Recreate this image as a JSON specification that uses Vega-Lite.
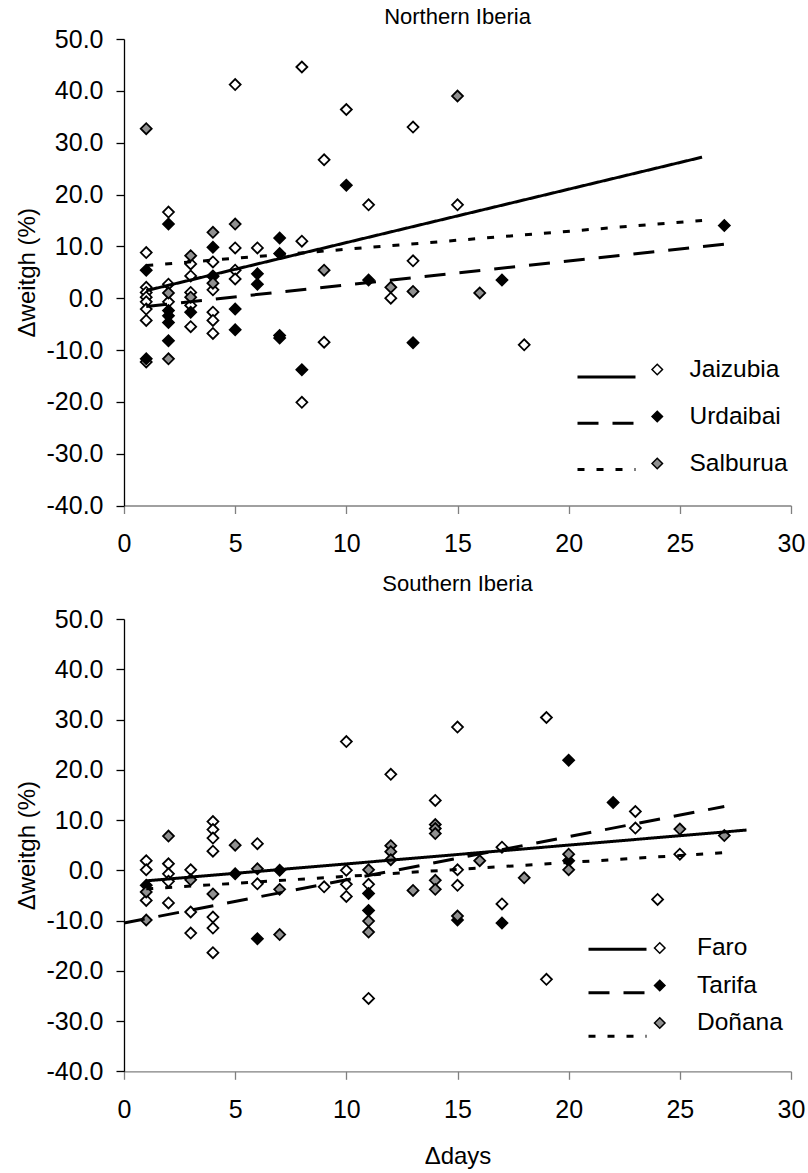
{
  "$schema": "https://vega.github.io/schema/vega-lite/v6.json",
  "padding": {"left": 15, "top": 6, "right": 5, "bottom": 6},
  "config": {
    "font": "Liberation Sans",
    "view": {"stroke": null},
    "locale": {"number": {"decimal": ".", "thousands": ",", "grouping": [3], "currency": ["$", ""], "minus": "-"}},
    "title": {"fontSize": 22, "fontWeight": "normal", "color": "black", "font": "Liberation Sans"},
    "axis": {"grid": false, "labelFontSize": 25, "titleFontSize": 24, "titleFontWeight": "normal", "labelColor": "black", "titleColor": "black", "labelFlush": false, "labelOverlap": false, "tickSize": 8},
    "axisY": {"domainColor": "black", "tickColor": "black", "domainWidth": 1.3, "tickWidth": 1.3, "labelPadding": 13, "titlePadding": 7},
    "axisX": {"domainColor": "#808080", "tickColor": "#808080", "domainWidth": 1.3, "tickWidth": 1.3, "labelPadding": 18, "titlePadding": 22}
  },
  "datasets": {
    "north": [
      {"site": "Jaizubia", "d": 1, "v": 8.8}, {"site": "Jaizubia", "d": 1, "v": 2.1}, {"site": "Jaizubia", "d": 1, "v": 1.1}, {"site": "Jaizubia", "d": 1, "v": 0.2},
      {"site": "Jaizubia", "d": 1, "v": -0.7}, {"site": "Jaizubia", "d": 1, "v": -2.1}, {"site": "Jaizubia", "d": 1, "v": -4.3}, {"site": "Jaizubia", "d": 1, "v": -12.3},
      {"site": "Jaizubia", "d": 2, "v": 16.6}, {"site": "Jaizubia", "d": 2, "v": 2.7}, {"site": "Jaizubia", "d": 2, "v": -0.7},
      {"site": "Jaizubia", "d": 3, "v": 6.6}, {"site": "Jaizubia", "d": 3, "v": 4.3}, {"site": "Jaizubia", "d": 3, "v": 1.1}, {"site": "Jaizubia", "d": 3, "v": -1.4}, {"site": "Jaizubia", "d": 3, "v": -5.5},
      {"site": "Jaizubia", "d": 4, "v": 7.0}, {"site": "Jaizubia", "d": 4, "v": 4.3}, {"site": "Jaizubia", "d": 4, "v": 1.6}, {"site": "Jaizubia", "d": 4, "v": -2.7}, {"site": "Jaizubia", "d": 4, "v": -4.3}, {"site": "Jaizubia", "d": 4, "v": -6.8},
      {"site": "Jaizubia", "d": 5, "v": 41.2}, {"site": "Jaizubia", "d": 5, "v": 9.7}, {"site": "Jaizubia", "d": 5, "v": 5.4}, {"site": "Jaizubia", "d": 5, "v": 3.7},
      {"site": "Jaizubia", "d": 6, "v": 9.7}, {"site": "Jaizubia", "d": 8, "v": 44.6}, {"site": "Jaizubia", "d": 8, "v": 11.0}, {"site": "Jaizubia", "d": 8, "v": -20.1},
      {"site": "Jaizubia", "d": 9, "v": 26.7}, {"site": "Jaizubia", "d": 9, "v": -8.5}, {"site": "Jaizubia", "d": 10, "v": 36.4}, {"site": "Jaizubia", "d": 11, "v": 18.0},
      {"site": "Jaizubia", "d": 12, "v": 0.0}, {"site": "Jaizubia", "d": 13, "v": 33.0}, {"site": "Jaizubia", "d": 13, "v": 7.2}, {"site": "Jaizubia", "d": 15, "v": 18.0}, {"site": "Jaizubia", "d": 18, "v": -9.0},
      {"site": "Urdaibai", "d": 1, "v": 5.4}, {"site": "Urdaibai", "d": 1, "v": -11.7}, {"site": "Urdaibai", "d": 2, "v": 14.3}, {"site": "Urdaibai", "d": 2, "v": -2.4},
      {"site": "Urdaibai", "d": 2, "v": -3.4}, {"site": "Urdaibai", "d": 2, "v": -4.7}, {"site": "Urdaibai", "d": 2, "v": -8.2}, {"site": "Urdaibai", "d": 3, "v": -2.7},
      {"site": "Urdaibai", "d": 4, "v": 9.8}, {"site": "Urdaibai", "d": 4, "v": 4.2}, {"site": "Urdaibai", "d": 5, "v": -2.1}, {"site": "Urdaibai", "d": 5, "v": -6.1},
      {"site": "Urdaibai", "d": 6, "v": 4.7}, {"site": "Urdaibai", "d": 6, "v": 2.7}, {"site": "Urdaibai", "d": 7, "v": 11.6}, {"site": "Urdaibai", "d": 7, "v": 8.6},
      {"site": "Urdaibai", "d": 7, "v": -7.2}, {"site": "Urdaibai", "d": 7, "v": -7.7}, {"site": "Urdaibai", "d": 8, "v": -13.8}, {"site": "Urdaibai", "d": 10, "v": 21.8},
      {"site": "Urdaibai", "d": 11, "v": 3.5}, {"site": "Urdaibai", "d": 13, "v": -8.6}, {"site": "Urdaibai", "d": 17, "v": 3.5}, {"site": "Urdaibai", "d": 27, "v": 14.0},
      {"site": "Salburua", "d": 1, "v": 32.7}, {"site": "Salburua", "d": 2, "v": 1.0}, {"site": "Salburua", "d": 2, "v": -11.7}, {"site": "Salburua", "d": 3, "v": 8.2},
      {"site": "Salburua", "d": 3, "v": 0.2}, {"site": "Salburua", "d": 4, "v": 12.7}, {"site": "Salburua", "d": 4, "v": 2.9}, {"site": "Salburua", "d": 5, "v": 14.3},
      {"site": "Salburua", "d": 9, "v": 5.4}, {"site": "Salburua", "d": 12, "v": 2.1}, {"site": "Salburua", "d": 13, "v": 1.3}, {"site": "Salburua", "d": 15, "v": 39.0}, {"site": "Salburua", "d": 16, "v": 1.0}
    ],
    "northLines": [
      {"site": "Jaizubia", "d": 1, "v": 1.45}, {"site": "Jaizubia", "d": 26, "v": 27.2},
      {"site": "Urdaibai", "d": 1, "v": -1.6}, {"site": "Urdaibai", "d": 27, "v": 10.4},
      {"site": "Salburua", "d": 1, "v": 6.3}, {"site": "Salburua", "d": 26, "v": 15.0}
    ],
    "south": [
      {"site": "Faro", "d": 1, "v": 1.9}, {"site": "Faro", "d": 1, "v": 0.1}, {"site": "Faro", "d": 1, "v": -6.0}, {"site": "Faro", "d": 2, "v": 1.3},
      {"site": "Faro", "d": 2, "v": -0.7}, {"site": "Faro", "d": 2, "v": -2.2}, {"site": "Faro", "d": 2, "v": -6.5}, {"site": "Faro", "d": 3, "v": 0.1},
      {"site": "Faro", "d": 3, "v": -8.3}, {"site": "Faro", "d": 3, "v": -12.5}, {"site": "Faro", "d": 4, "v": 9.7}, {"site": "Faro", "d": 4, "v": 8.1},
      {"site": "Faro", "d": 4, "v": 6.4}, {"site": "Faro", "d": 4, "v": 3.8}, {"site": "Faro", "d": 4, "v": -9.3}, {"site": "Faro", "d": 4, "v": -11.5},
      {"site": "Faro", "d": 4, "v": -16.4}, {"site": "Faro", "d": 6, "v": 5.3}, {"site": "Faro", "d": 6, "v": -2.7}, {"site": "Faro", "d": 9, "v": -3.3},
      {"site": "Faro", "d": 10, "v": 25.6}, {"site": "Faro", "d": 10, "v": 0.0}, {"site": "Faro", "d": 10, "v": -2.8}, {"site": "Faro", "d": 10, "v": -5.2},
      {"site": "Faro", "d": 11, "v": -2.8}, {"site": "Faro", "d": 11, "v": -25.5}, {"site": "Faro", "d": 12, "v": 19.1}, {"site": "Faro", "d": 14, "v": 13.9},
      {"site": "Faro", "d": 15, "v": 28.5}, {"site": "Faro", "d": 15, "v": 0.1}, {"site": "Faro", "d": 15, "v": -3.0}, {"site": "Faro", "d": 17, "v": 4.6},
      {"site": "Faro", "d": 17, "v": -6.7}, {"site": "Faro", "d": 19, "v": 30.4}, {"site": "Faro", "d": 19, "v": -21.7}, {"site": "Faro", "d": 23, "v": 11.7},
      {"site": "Faro", "d": 23, "v": 8.4}, {"site": "Faro", "d": 24, "v": -5.8}, {"site": "Faro", "d": 25, "v": 3.2},
      {"site": "Tarifa", "d": 1, "v": -3.0}, {"site": "Tarifa", "d": 5, "v": -0.7}, {"site": "Tarifa", "d": 6, "v": -13.6}, {"site": "Tarifa", "d": 7, "v": 0.0},
      {"site": "Tarifa", "d": 11, "v": -4.6}, {"site": "Tarifa", "d": 11, "v": -8.0}, {"site": "Tarifa", "d": 15, "v": -9.9}, {"site": "Tarifa", "d": 17, "v": -10.5},
      {"site": "Tarifa", "d": 20, "v": 21.9}, {"site": "Tarifa", "d": 20, "v": 1.9}, {"site": "Tarifa", "d": 22, "v": 13.5},
      {"site": "Doñana", "d": 1, "v": -4.3}, {"site": "Doñana", "d": 1, "v": -9.9}, {"site": "Doñana", "d": 2, "v": 6.8}, {"site": "Doñana", "d": 3, "v": -1.9},
      {"site": "Doñana", "d": 4, "v": -4.7}, {"site": "Doñana", "d": 5, "v": 5.0}, {"site": "Doñana", "d": 6, "v": 0.3}, {"site": "Doñana", "d": 7, "v": -3.8},
      {"site": "Doñana", "d": 7, "v": -12.8}, {"site": "Doñana", "d": 11, "v": 0.1}, {"site": "Doñana", "d": 11, "v": -10.1}, {"site": "Doñana", "d": 11, "v": -12.3},
      {"site": "Doñana", "d": 12, "v": 4.9}, {"site": "Doñana", "d": 12, "v": 3.7}, {"site": "Doñana", "d": 12, "v": 2.1}, {"site": "Doñana", "d": 13, "v": -4.0},
      {"site": "Doñana", "d": 14, "v": 9.1}, {"site": "Doñana", "d": 14, "v": 8.3}, {"site": "Doñana", "d": 14, "v": 7.3}, {"site": "Doñana", "d": 14, "v": -2.0},
      {"site": "Doñana", "d": 14, "v": -3.8}, {"site": "Doñana", "d": 15, "v": -9.1}, {"site": "Doñana", "d": 16, "v": 1.9}, {"site": "Doñana", "d": 18, "v": -1.5},
      {"site": "Doñana", "d": 20, "v": 3.2}, {"site": "Doñana", "d": 20, "v": 0.1}, {"site": "Doñana", "d": 25, "v": 8.2}, {"site": "Doñana", "d": 27, "v": 6.9}
    ],
    "southLines": [
      {"site": "Faro", "d": 1, "v": -2.1}, {"site": "Faro", "d": 28, "v": 8.0},
      {"site": "Tarifa", "d": 0, "v": -10.5}, {"site": "Tarifa", "d": 27, "v": 12.7},
      {"site": "Doñana", "d": 1, "v": -3.7}, {"site": "Doñana", "d": 27, "v": 3.5}
    ]
  },
  "spacing": 16,
  "resolve": {"scale": {"fill": "independent", "strokeDash": "independent"}, "legend": {"fill": "independent", "strokeDash": "independent"}},
  "vconcat": [
    {
      "title": {"text": "Northern Iberia", "offset": -2},
      "width": 667,
      "height": 466.5,
      "layer": [
        {
          "data": {"name": "north"},
          "mark": {"type": "point", "shape": "diamond", "filled": true, "stroke": "black", "strokeWidth": 1.8, "size": 120, "opacity": 1},
          "encoding": {
            "x": {"field": "d", "type": "quantitative", "scale": {"domain": [0, 30], "nice": false}, "axis": {"title": null, "values": [0, 5, 10, 15, 20, 25, 30]}},
            "y": {"field": "v", "type": "quantitative", "scale": {"domain": [-40, 50], "nice": false}, "axis": {"title": "Δweitgh (%)", "values": [-40, -30, -20, -10, 0, 10, 20, 30, 40, 50], "format": ".1f"}},
            "fill": {"field": "site", "type": "nominal", "scale": {"domain": ["Jaizubia", "Urdaibai", "Salburua"], "range": ["white", "black", "#909090"]},
              "legend": {"orient": "none", "legendX": 521, "legendY": 318.3, "title": null, "padding": 0, "symbolType": "diamond", "symbolSize": 110, "symbolStrokeWidth": 1.5, "symbolStrokeColor": "black", "labelFontSize": 24.5, "labelColor": "black", "labelOffset": 20, "rowPadding": 22,
                "encode": {"symbols": {"update": {"stroke": {"value": "black"}, "strokeWidth": {"value": 1.5}, "opacity": {"value": 1}}}}}}
          }
        },
        {
          "data": {"name": "northLines"},
          "mark": {"type": "line", "color": "black", "strokeWidth": 3},
          "encoding": {
            "x": {"field": "d", "type": "quantitative"},
            "y": {"field": "v", "type": "quantitative"},
            "strokeDash": {"field": "site", "type": "nominal", "sort": null, "scale": {"range": [[1, 0], [21, 14], [7, 12]]},
              "legend": {"orient": "none", "legendX": 471, "legendY": 326.5, "title": null, "padding": 0, "symbolType": "M-2.9,0H2.9", "symbolSize": 400, "symbolStrokeWidth": 3, "symbolStrokeColor": "black", "labelExpr": "''", "labelFontSize": 1, "rowPadding": 28.3}}
          }
        }
      ]
    },
    {
      "title": {"text": "Southern Iberia", "offset": 10.7},
      "width": 667,
      "height": 452.3,
      "layer": [
        {
          "data": {"name": "south"},
          "mark": {"type": "point", "shape": "diamond", "filled": true, "stroke": "black", "strokeWidth": 1.8, "size": 120, "opacity": 1},
          "encoding": {
            "x": {"field": "d", "type": "quantitative", "scale": {"domain": [0, 30], "nice": false}, "axis": {"title": "Δdays", "values": [0, 5, 10, 15, 20, 25, 30]}},
            "y": {"field": "v", "type": "quantitative", "scale": {"domain": [-40, 50], "nice": false}, "axis": {"title": "Δweitgh (%)", "values": [-40, -30, -20, -10, 0, 10, 20, 30, 40, 50], "format": ".1f"}},
            "fill": {"field": "site", "type": "nominal", "scale": {"domain": ["Faro", "Tarifa", "Doñana"], "range": ["white", "black", "#909090"]},
              "legend": {"orient": "none", "legendX": 523.5, "legendY": 316.8, "title": null, "padding": 0, "symbolType": "diamond", "symbolSize": 110, "symbolStrokeWidth": 1.5, "symbolStrokeColor": "black", "labelFontSize": 24.5, "labelColor": "black", "labelOffset": 25, "rowPadding": 12.5,
                "encode": {"symbols": {"update": {"stroke": {"value": "black"}, "strokeWidth": {"value": 1.5}, "opacity": {"value": 1}}}}}}
          }
        },
        {
          "data": {"name": "southLines"},
          "mark": {"type": "line", "color": "black", "strokeWidth": 3},
          "encoding": {
            "x": {"field": "d", "type": "quantitative"},
            "y": {"field": "v", "type": "quantitative"},
            "strokeDash": {"field": "site", "type": "nominal", "sort": null, "scale": {"range": [[1, 0], [21, 14], [7, 12]]},
              "legend": {"orient": "none", "legendX": 482, "legendY": 318.8, "title": null, "padding": 0, "symbolType": "M-2.9,0H2.9", "symbolSize": 400, "symbolStrokeWidth": 3, "symbolStrokeColor": "black", "labelExpr": "''", "labelFontSize": 1, "rowPadding": 25.5}}
          }
        }
      ]
    }
  ]
}
